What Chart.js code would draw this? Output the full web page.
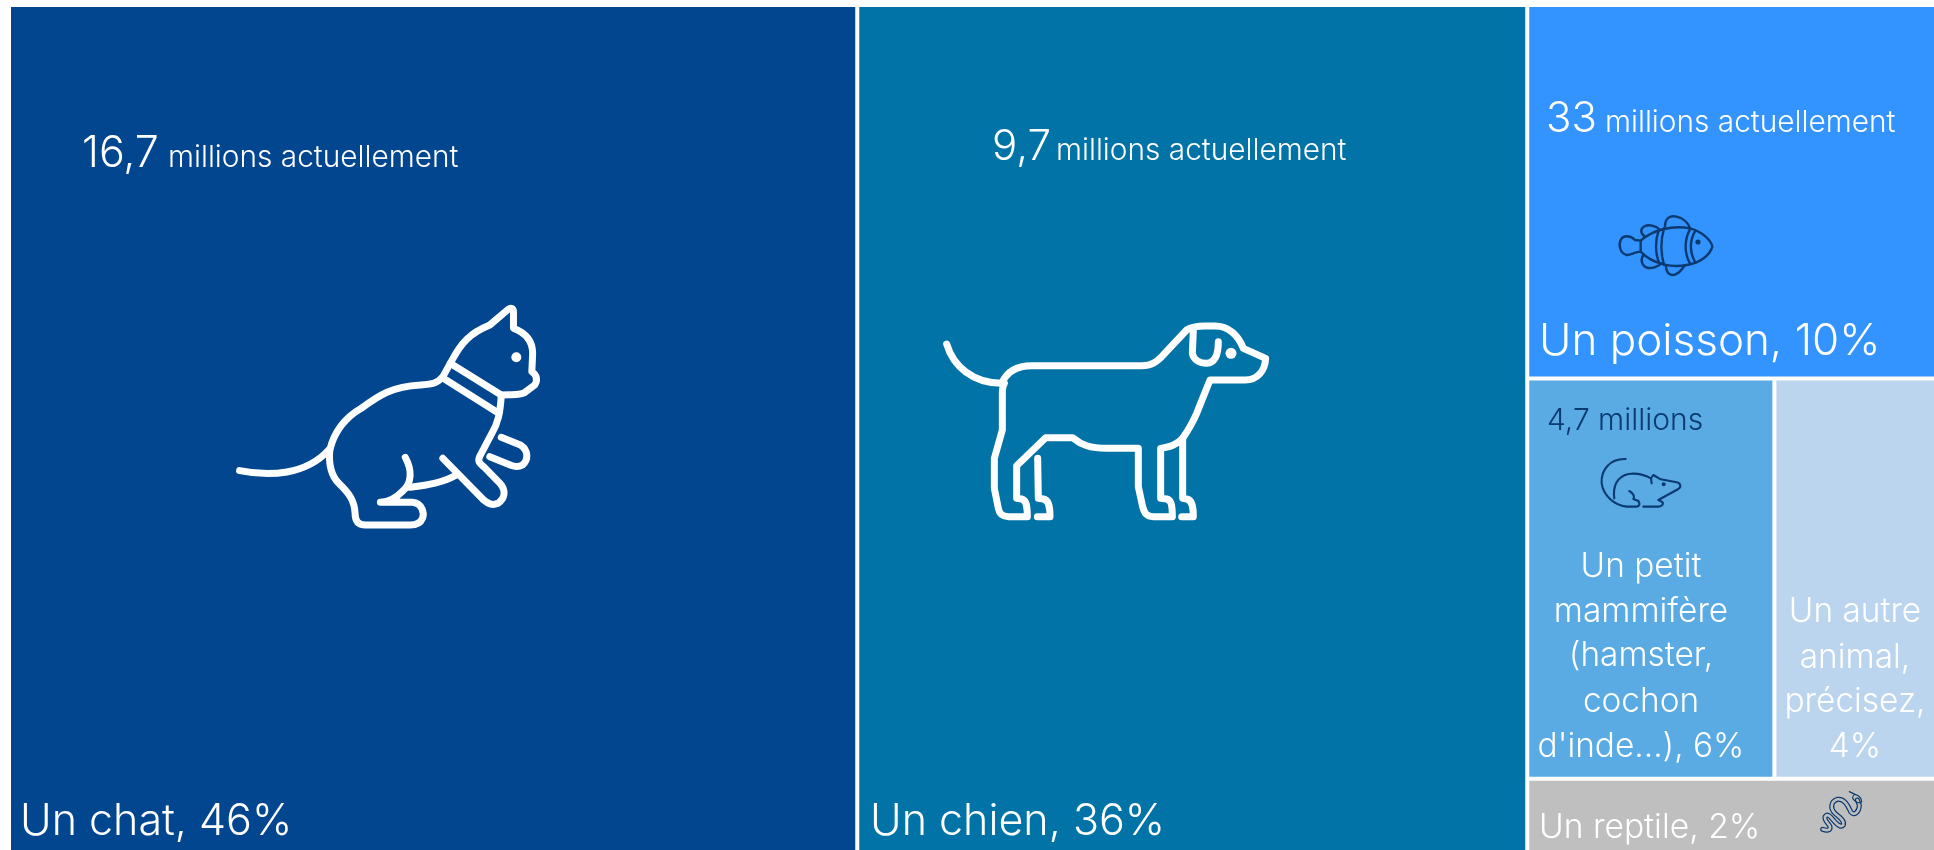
<!DOCTYPE html>
<html lang="fr">
<head>
<meta charset="utf-8">
<title>Animaux de compagnie</title>
<style>
html,body{margin:0;padding:0;background:#fff;overflow:hidden;width:1934px;height:850px}
canvas{display:block}
</style>
<script src="https://cdn.jsdelivr.net/npm/chart.js@4"></script>
</head>
<body>
<canvas id="c" width="1936" height="852"></canvas>
<script>
// ---- data ----
const categories = ['Un chat','Un chien','Un poisson','Un petit mammifère (hamster, cochon d\'inde...)','Un autre animal, précisez','Un reptile'];
const percentLabels = [46,36,10,6,4,2];
// tile sizes read from the tile areas (the printed percentages are rounded)
const tileShares = [45.78,36.16,9.73,6.30,4.12,1.91];
const tileColors = ['#02468F','#0273A6','#3393FF','#5AAAE3','#BCD5EE','#BFBFBF'];

const BLUE_INK = '#0B3A70';
const FONT = 'Inter, Roboto, sans-serif';

// ---- treemap layout derived from the shares ----
function treemapLayout(v){
  const total = v.reduce((a,b)=>a+b,0);
  const rest = v[2]+v[3]+v[4]+v[5];
  const x1 = v[0], x2 = v[0]+v[1];
  const y1 = v[2]/rest, y2 = (v[2]+v[3]+v[4])/rest;
  const xm = x2 + rest*v[3]/(v[3]+v[4]);
  return {total, cells:[
    {x:0,y:0,x1:x1,y1:1},
    {x:x1,y:0,x1:x2,y1:1},
    {x:x2,y:0,x1:total,y1:y1},
    {x:x2,y:y1,x1:xm,y1:y2},
    {x:xm,y:y1,x1:total,y1:y2},
    {x:x2,y:y2,x1:total,y1:1}
  ]};
}
const layout = treemapLayout(tileShares);

class TreemapController extends Chart.DatasetController {
  update(mode){
    const meta = this._cachedMeta;
    this.updateElements(meta.data,0,meta.data.length,mode);
  }
  updateElements(rects,start,count,mode){
    const {xScale,yScale} = this._cachedMeta;
    const data = this.getDataset().data;
    for(let i=start;i<start+count;i++){
      const d = data[i];
      const l = xScale.getPixelForValue(d.x), r = xScale.getPixelForValue(d.x1);
      const t = yScale.getPixelForValue(d.y), b = yScale.getPixelForValue(d.y1);
      Object.assign(rects[i],{
        x:(l+r)/2, y:t, base:b, width:r-l, height:b-t,
        horizontal:false, inflateAmount:0, borderSkipped:{}, enableBorderRadius:false,
        options:this.resolveDataElementOptions(i,mode)
      });
    }
  }
}
TreemapController.id = 'treemap';
TreemapController.defaults = {dataElementType:'bar'};
Chart.register(TreemapController);

// ---- text placement ----
function T(text,x,y,size,extra){return Object.assign({text,x,y,size,color:'#fff',align:'left'},extra||{});}
const textItems = [
  T('16,7',82,167,43), T('millions actuellement',168,167,29.8),
  T('9,7',992,160,42), T('millions actuellement',1056,160,29.8),
  T('33',1546,132,42), T('millions actuellement',1605,132,29.8),
  T('4,7 millions',1547,430,30,{color:BLUE_INK}),
  T(categories[0]+', '+percentLabels[0]+'%',20,835,43),
  T(categories[1]+', '+percentLabels[1]+'%',870,835,43),
  T(categories[2]+', '+percentLabels[2]+'%',1539,355,44),
  T('Un petit',1641,577,33.4,{align:'center'}),
  T('mammifère',1641,622,33.4,{align:'center'}),
  T('(hamster,',1641,666,33.4,{align:'center'}),
  T('cochon',1641,712,33.4,{align:'center'}),
  T("d'inde...), "+percentLabels[3]+'%',1641,757,33.4,{align:'center'}),
  T('Un autre',1855,622,33.4,{align:'center'}),
  T('animal,',1855,668,33.4,{align:'center'}),
  T('précisez,',1855,712,33.4,{align:'center'}),
  T(percentLabels[4]+'%',1855,757,33.4,{align:'center'}),
  T(categories[5]+', '+percentLabels[5]+'%',1539,838,33.6)
];

// ---- pictograms (decoration), traced in crop coordinates ----
function icon(paths,sx,sy,tx,ty,width,color,dots){return {paths,sx,sy,tx,ty,width,color,dots:dots||[]};}
const icons = [
 icon([
  'M587 1112 C660 1130 750 1125 805 1050',
  'M808 1050 C820 990 850 950 885 925 C930 885 960 860 1030 855 C1060 852 1072 850 1085 830 L1110 775 C1130 730 1150 700 1200 675 L1245 628 C1252 622 1258 625 1258 635 L1258 685 C1290 700 1305 725 1305 760 L1303 815 C1315 825 1318 840 1310 855 L1285 878 C1270 888 1250 882 1228 885',
  'M1103 790 L1228 885','M1090 838 L1222 940',
  'M1228 890 C1225 940 1220 970 1205 1000 L1175 1070 C1170 1085 1175 1090 1185 1100 L1225 1150 C1240 1170 1238 1195 1220 1210 C1205 1218 1195 1210 1185 1200 L1085 1075',
  'M1228 1012 L1275 1035 C1295 1050 1295 1080 1280 1095 C1270 1102 1260 1100 1250 1095 L1200 1070',
  'M1118 1125 C1085 1148 1050 1155 1005 1162',
  'M993 1072 C1010 1110 1010 1150 985 1175 C970 1195 955 1205 932 1207 L1010 1207 C1035 1210 1040 1240 1035 1255 C1030 1270 1020 1275 1005 1275 L895 1275 C875 1275 870 1260 870 1240 C868 1200 855 1180 830 1150 C810 1125 805 1090 808 1050'
 ],1/2.45,1/3,0,100,7,'#fff',[[1265,772,5]]),
 icon([
  'M140 732 C160 800 220 850 305 850',
  'M305 850 C320 815 350 797 395 797 L725 797 C755 797 770 785 785 770 L860 690 C875 680 895 678 915 678 L945 678 C985 678 1015 705 1030 745 L1097 775 C1095 810 1075 840 1035 840 L930 840 L890 940 C875 975 865 990 848 1015 C830 1035 810 1040 782 1045 L782 1195 L800 1197 C812 1200 817 1210 817 1250 L760 1250 C740 1250 733 1240 728 1220 L715 1160 L715 1045 L620 1045 C570 1045 545 1035 518 1013 L437 1013 L350 1097 L350 1195 L365 1197 C378 1200 382 1215 382 1250 L325 1250 C305 1250 298 1240 295 1225 L283 1165 L283 1075 L307 990 L307 880 C307 865 308 858 313 850',
  'M848 1015 L848 1195 L860 1197 C875 1200 880 1215 880 1250 L845 1250',
  'M413 1075 L415 1195 L430 1197 C445 1200 450 1215 450 1250 L412 1250',
  'M880 690 L877 760 C880 780 900 790 920 790 C945 788 955 765 955 725'
 ],1/3,1/3,900,100,7,'#fff',[[993,760,5.5]]),
 icon([
  'M152 122 C190 88 250 75 300 85 C340 95 365 125 367 140 C360 165 330 190 290 195 C250 203 190 195 152 155',
  'M152 122 L135 120 C120 105 100 105 92 120 C85 135 90 160 110 165 C120 167 135 155 152 155 L152 122',
  'M225 80 C225 55 240 45 260 50 C280 55 295 70 300 85',
  'M165 110 C150 100 150 85 165 78 C180 72 200 80 208 88',
  'M228 198 C228 218 240 228 255 224 C265 220 275 210 283 198',
  'M160 165 C150 180 155 200 175 204 C190 205 205 198 215 190',
  'M207 88 C195 120 195 160 208 190','M222 85 C212 120 212 160 222 195',
  'M300 88 C285 115 280 155 300 190','M316 92 C300 120 298 155 316 188'
 ],1/3,1/3,1590,200,2.4,BLUE_INK,[[324,126,2.6]]),
 icon([
  'M107 42 C60 40 32 75 35 115 C40 150 70 180 110 185 L140 185 C150 183 150 175 145 168',
  'M73 160 C68 125 80 95 115 87 C140 83 165 90 183 100 L190 90 L212 103 L260 112 C272 115 275 125 265 132 L205 165 L215 170 C222 175 218 185 205 185 L160 185',
  'M118 138 C130 145 135 155 130 162 L145 168','M183 100 L185 115'
 ],1/3,1/3,1590,445,2.1,BLUE_INK,[[221,118,2]])
];
const snake = {
  body:'M128 208 C140 212 152 212 150 200 C145 190 132 180 135 170 C142 160 150 168 158 178 C170 192 182 205 190 195 C195 180 175 170 165 160 C150 145 152 125 172 118 C195 115 205 140 212 155 C222 170 238 155 238 135 L232 120',
  head:'M225 103 C235 105 245 115 245 125 C240 132 225 128 218 115 C218 108 222 103 225 103 L208 95',
  sx:1/3,sy:1/3,tx:1780,ty:760
};
function mapped(d,o){
  const p = new Path2D();
  p.addPath(new Path2D(d), new DOMMatrix([o.sx,0,0,o.sy,o.tx,o.ty]));
  return p;
}

const overlay = {
  id:'overlay',
  afterDatasetsDraw(chart){
    const ctx = chart.ctx;
    ctx.save();
    ctx.lineCap='round'; ctx.lineJoin='round';
    icons.forEach(ic=>{
      ctx.strokeStyle=ic.color; ctx.fillStyle=ic.color; ctx.lineWidth=ic.width;
      ic.paths.forEach(d=>ctx.stroke(mapped(d,ic)));
      ic.dots.forEach(([x,y,r])=>{
        ctx.beginPath();
        ctx.arc(ic.tx+x*ic.sx,ic.ty+y*ic.sy,r,0,Math.PI*2);
        ctx.fill();
      });
    });
    const bodyPath = mapped(snake.body,snake);
    ctx.strokeStyle=BLUE_INK; ctx.lineWidth=5; ctx.stroke(bodyPath);
    ctx.strokeStyle=tileColors[5]; ctx.lineWidth=2.6; ctx.stroke(bodyPath);
    ctx.strokeStyle=BLUE_INK; ctx.lineWidth=1.2; ctx.stroke(mapped(snake.head,snake));
    ctx.textBaseline='alphabetic';
    textItems.forEach(t=>{
      ctx.font='300 '+t.size+'px '+FONT;
      ctx.fillStyle=t.color; ctx.textAlign=t.align;
      ctx.fillText(t.text,t.x,t.y);
    });
    ctx.restore();
  }
};

new Chart(document.getElementById('c'),{
  type:'treemap',
  data:{
    labels:categories,
    datasets:[{
      label:'Animaux',
      data:layout.cells,
      backgroundColor:tileColors,
      borderColor:'#ffffff',
      borderWidth:2
    }]
  },
  options:{
    responsive:false,
    animation:false,
    devicePixelRatio:1,
    layout:{padding:{left:9,top:5,right:0,bottom:0}},
    plugins:{legend:{display:false},title:{display:false},tooltip:{enabled:false}},
    scales:{
      x:{type:'linear',min:0,max:layout.total,display:false},
      y:{type:'linear',min:0,max:1,reverse:true,display:false}
    }
  },
  plugins:[overlay]
});
</script>
</body>
</html>
